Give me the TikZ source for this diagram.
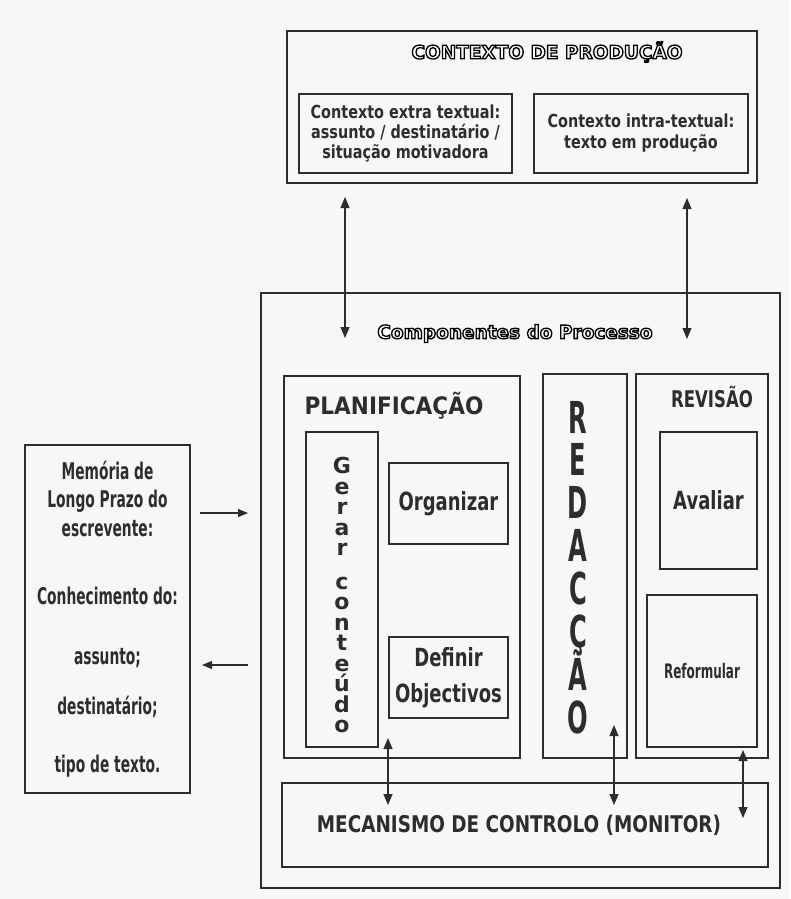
\documentclass[tikz,border=0pt]{standalone}
\usepackage{fontspec}
\setmainfont{DejaVu Sans}
\newfontfamily\memfont[FakeStretch=0.6]{DejaVu Sans}
\newfontfamily\narrowfont[FakeStretch=0.72]{DejaVu Sans}
\newfontfamily\semifont[FakeStretch=0.8]{DejaVu Sans}
\newfontfamily\widefont[FakeStretch=0.9]{DejaVu Sans}
\newfontfamily\tallfont[FakeStretch=0.55]{DejaVu Sans}
\newcommand\redfont{\tallfont\bfseries\fontsize{44}{42.9}\selectfont\lineskiplimit=-50pt\relax}
% hollow letters: stroke the glyph outlines only
\newcommand\hollow[1]{\special{pdf:literal direct 1 Tr 1.3 w}#1\special{pdf:literal direct 0 Tr}}
\usetikzlibrary{arrows.meta}
\definecolor{paper}{RGB}{247,247,246}
\definecolor{ink}{RGB}{45,45,45}
\tikzstyle{panel} = [draw=ink, line width=1.2, inner sep=0, outer sep=0]
\tikzstyle{cell} = [panel, align=center, text=ink,
    font=\narrowfont\bfseries\fontsize{25}{30}\selectfont]
\tikzstyle{title} = [inner sep=0, text=black,
    font=\bfseries\fontsize{18.5}{20}\selectfont]
\tikzstyle{head} = [inner sep=0, text=ink, font=\widefont\bfseries\fontsize{24}{28}\selectfont]
\tikzstyle{dbl} = [{Triangle[length=11pt,width=9pt]}-{Triangle[length=11pt,width=9pt]},
    line width=1.1, draw=ink]
\tikzstyle{one} = [-{Triangle[length=10pt,width=8pt]}, line width=1.1, draw=ink]

\begin{document}
\begin{tikzpicture}[x=1pt, y=-1pt]
\useasboundingbox (0,0) rectangle (790,899);
\fill[paper] (0,0) rectangle (790,899);

%%% contexto de producao
\node[panel, minimum width=470, minimum height=152] (ctx) at (522,107) {};
\node[title] (ctxT) at (547,52) {\hollow{CONTEXTO DE PRODUÇÃO}};
\node[cell, minimum width=213, minimum height=79,
    font=\semifont\bfseries\fontsize{18}{20}\selectfont] (extra) at (405.5,133.5)
    {Contexto extra textual:\\ assunto / destinatário /\\ situação motivadora};
\node[cell, minimum width=214, minimum height=79,
    font=\semifont\bfseries\fontsize{18}{21}\selectfont] (intra) at (641,133.5)
    {Contexto intra-textual:\\ texto em produção};

%%% componentes do processo
\node[panel, minimum width=519, minimum height=595] (comp) at (520.5,590.5) {};
\node[title] (compT) at (515,333.5) {\hollow{Componentes do Processo}};

% planificacao
\node[panel, minimum width=236, minimum height=382] (plan) at (402,567) {};
\node[head] (planT) at (394,406) {PLANIFICAÇÃO};
\node[panel, minimum width=72, minimum height=315] (gerar) at (342,589.5) {};
\node[inner sep=0, align=center, text=ink, font=\bfseries\fontsize{22}{20.5}\selectfont]
    (gerarT) at (342,595) {G\\e\\r\\a\\r\\[13pt]c\\o\\n\\t\\e\\ú\\d\\o};
\node[cell, minimum width=119, minimum height=81] (org) at (448.5,503.5) {Organizar};
\node[cell, minimum width=119, minimum height=81,
    font=\narrowfont\bfseries\fontsize{25}{36}\selectfont] (def) at (448.5,677.5) {Definir\\Objectivos};

% redaccao
\node[panel, minimum width=84, minimum height=384] (red) at (585,566) {};
\node[inner sep=0, align=center, text=ink, font=\redfont]
    (redT) at (578,567.5) {R\\E\\D\\A\\C\\Ç\\Ã\\O};

% revisao
\node[panel, minimum width=132, minimum height=384] (rev) at (702,566) {};
\node[head, font=\narrowfont\bfseries\fontsize{23}{28}\selectfont] (revT) at (712,397) {REVISÃO};
\node[cell, minimum width=97, minimum height=137] (aval) at (708.5,500.5) {Avaliar};
\node[cell, minimum width=110, minimum height=152,
    font=\memfont\bfseries\fontsize{20}{22}\selectfont] (refo) at (702,671) {Reformular};

% monitor
\node[cell, minimum width=486, minimum height=84,
    font=\semifont\bfseries\fontsize{23}{26}\selectfont] (mon) at (525,825)
    {MECANISMO DE CONTROLO (MONITOR)\hspace*{12pt}};

%%% memoria
\node[cell, minimum width=165, minimum height=348,
    font=\memfont\bfseries\fontsize{23}{28.5}\selectfont] (mem) at (107.5,619)
    {Memória de\\Longo Prazo do\\escrevente:\\[39.5pt]Conhecimento do:\\[31.5pt]assunto;\\[21.5pt]destinatário;\\[29.5pt]tipo de texto.};

%%% setas
\coordinate (ctxL) at (345,197);
\coordinate (compL) at (345,338);
\coordinate (ctxR) at (687,198);
\coordinate (compR) at (687,339);
\draw[dbl] (ctxL) -- (compL);
\draw[dbl] (ctxR) -- (compR);

\coordinate (memIn) at (200,513);
\coordinate (compIn) at (248,513);
\coordinate (memOut) at (202,665);
\coordinate (compOut) at (248,665);
\draw[one] (memIn) -- (compIn);
\draw[one] (compOut) -- (memOut);

\coordinate (planM) at (388,738);
\coordinate (monP) at (388,805);
\coordinate (redM) at (614,725);
\coordinate (monR) at (614,805);
\coordinate (revM) at (743,750);
\coordinate (monV) at (743,818);
\draw[dbl] (planM) -- (monP);
\draw[dbl] (redM) -- (monR);
\draw[dbl] (revM) -- (monV);

\end{tikzpicture}
\end{document}
